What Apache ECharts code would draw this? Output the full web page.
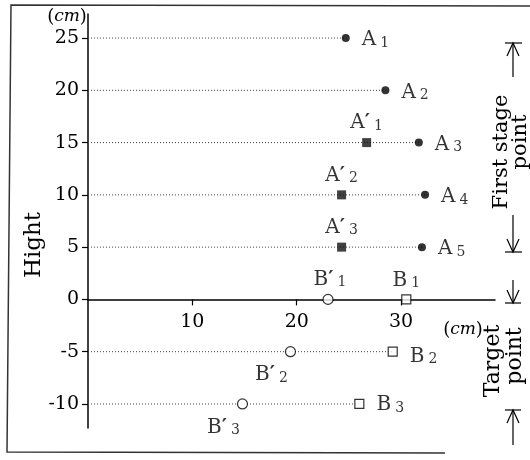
<!DOCTYPE html>
<html>
<head>
<meta charset="utf-8">
<script src="https://cdn.jsdelivr.net/npm/echarts@6/dist/echarts.min.js"></script>
<style>
html,body{margin:0;padding:0;background:#fff;}
#c{width:530px;height:460px;}
</style>
</head>
<body>
<div id="c"></div>
<script>
// ---- data ----
const aX = [24.7, 28.5, 31.7, 32.3, 32.0];      // first stage points A1..A5
const aY = [25, 20, 15, 10, 5];
const aNames = ['1', '2', '3', '4', '5'];
const apX = [26.7, 24.3, 24.3];                 // A'1..A'3
const apY = [15, 10, 5];
const apNames = ['1', '2', '3'];
const bX = [30.5, 29.2, 26.0];                  // target points B1..B3
const bY = [0, -5, -10];
const bNames = ['1', '2', '3'];
const bpX = [23.0, 19.4, 14.8];                 // B'1..B'3
const bpY = [0, -5, -10];
const bpNames = ['1', '2', '3'];
const xTicks = [10, 20, 30];
const yTicks = [-10, -5, 0, 5, 10, 15, 20, 25];

const FONT = 'DejaVu Serif';
const chart = echarts.init(document.getElementById('c'));

const X_MIN = 0, X_MAX = 39, Y_MIN = -12.3, Y_MAX = 27.3;
const GRID_TOP = 14, GRID_BOTTOM = 32, GRID_LEFT = 88, GRID_RIGHT = 35;
const plotH = 460 - GRID_TOP - GRID_BOTTOM;
const zeroFromTop = plotH * (Y_MAX - 0) / (Y_MAX - Y_MIN);

const rich = {
  m: {fontFamily: FONT, fontSize: 20, color: '#000'},
  p: {fontFamily: FONT, fontSize: 20, color: '#000', fontWeight: 'bold'},
  s: {fontFamily: FONT, fontSize: 14, color: '#000', padding: [6, 0, 0, 4]}
};

function pts(xs, ys) { return xs.map((x, i) => [x, ys[i]]); }

const guideRows = aX.map((x, i) => [x, aY[i]]).concat(bX.map((x, i) => [x, bY[i]]).filter(p => p[1] !== 0));
const guideSeries = guideRows.map(p => ({
  type: 'line', data: [[0, p[1]], [p[0], p[1]]], symbol: 'none', silent: true, z: 1,
  lineStyle: {color: '#444', width: 1, type: [1, 2]}
}));

const sAItems = pts(aX, aY).map((v, i) => ({value: v, sub: aNames[i]}));
const sApItems = pts(apX, apY).map((v, i) => ({value: v, sub: apNames[i]}));
const sBItems = pts(bX, bY).map((v, i) => ({
  value: v, sub: bNames[i],
  label: i === 0 ? {position: 'top', distance: 4, offset: [0, 0]} : {position: 'right', distance: 12, offset: [0, i === 1 ? 5 : 1]}
}));
const sBpItems = pts(bpX, bpY).map((v, i) => ({
  value: v, sub: bpNames[i],
  label: i === 0 ? {position: 'top', distance: 4, offset: [2, 0]} : {position: 'bottom', distance: 8, offset: [-19, 0]}
}));

function fmt(letter, prime) {
  return p => '{m|' + letter + '}' + (prime ? '{p|\u2032}' : '') + '{s|' + p.data.sub + '}';
}

const cmText = {text: '{n|(}{i|cm}{n|)}', fill: '#000', fontFamily: FONT, fontSize: 18, align: 'center', verticalAlign: 'middle',
  rich: {
    n: {fontFamily: FONT, fontSize: 18, color: '#000'},
    i: {fontFamily: FONT, fontStyle: 'italic', fontSize: 17, color: '#000'}
  }};

const option = {
  animation: false,
  backgroundColor: '#fff',
  grid: [
    {left: GRID_LEFT, right: GRID_RIGHT, top: GRID_TOP, bottom: GRID_BOTTOM},
    {left: GRID_LEFT, right: GRID_RIGHT, top: GRID_TOP, height: zeroFromTop}
  ],
  xAxis: [
    {type: 'value', gridIndex: 0, min: X_MIN, max: X_MAX, show: false, splitLine: {show: false}},
    {
      type: 'value', gridIndex: 1, min: X_MIN, max: X_MAX, position: 'bottom',
      axisLine: {onZero: false, lineStyle: {color: '#000', width: 1.5}},
      axisTick: {show: true, customValues: xTicks, length: 6, lineStyle: {color: '#000', width: 1.2}},
      axisLabel: {customValues: xTicks, fontFamily: FONT, fontSize: 19, color: '#000', margin: 13},
      splitLine: {show: false}
    }
  ],
  yAxis: [
    {
      type: 'value', gridIndex: 0, min: Y_MIN, max: Y_MAX,
      axisLine: {show: true, onZero: false, lineStyle: {color: '#000', width: 1.5}},
      axisTick: {show: true, customValues: yTicks, length: 6, lineStyle: {color: '#000', width: 1.2}},
      axisLabel: {customValues: yTicks, fontFamily: FONT, fontSize: 19, color: '#000', margin: 9},
      splitLine: {show: false}
    },
    {type: 'value', gridIndex: 1, min: 0, max: Y_MAX, show: false, splitLine: {show: false}}
  ],
  series: guideSeries.concat([
    {
      type: 'scatter', data: sAItems, symbol: 'circle', symbolSize: 8, z: 3,
      itemStyle: {color: '#000'},
      label: {show: true, position: 'right', distance: 12, offset: [0, 2], formatter: fmt('A', false), rich: rich}
    },
    {
      type: 'scatter', data: sApItems, symbol: 'rect', symbolSize: 9, z: 3,
      itemStyle: {color: '#111'},
      label: {show: true, position: 'top', distance: 5, formatter: fmt('A', true), rich: rich}
    },
    {
      type: 'scatter', data: sBItems, symbol: 'rect', symbolSize: 9, z: 3,
      itemStyle: {color: '#fff', borderColor: '#000', borderWidth: 1.2},
      label: {show: true, formatter: fmt('B', false), rich: rich}
    },
    {
      type: 'scatter', data: sBpItems, symbol: 'circle', symbolSize: 10, z: 3,
      itemStyle: {color: '#fff', borderColor: '#000', borderWidth: 1.2},
      label: {show: true, formatter: fmt('B', true), rich: rich}
    }
  ]),
  graphic: [
    {type: 'polyline', shape: {points: [[530, 6], [11, 5], [7, 452], [445, 453]]}, style: {stroke: '#333', lineWidth: 1.5, fill: null}, silent: true},
    {type: 'text', x: 67, y: 17, style: cmText},
    {type: 'text', x: 463, y: 330, style: cmText},
    {type: 'text', x: 34, y: 245, rotation: Math.PI / 2, style: {text: 'Hight', fill: '#000', fontFamily: FONT, fontSize: 23, align: 'center', verticalAlign: 'middle'}},
    {type: 'text', x: 502, y: 152, rotation: Math.PI / 2, style: {text: 'First stage', fill: '#000', fontFamily: FONT, fontSize: 21, align: 'center', verticalAlign: 'middle'}},
    {type: 'text', x: 521, y: 142, rotation: Math.PI / 2, style: {text: 'point', fill: '#000', fontFamily: FONT, fontSize: 21, align: 'center', verticalAlign: 'middle'}},
    {type: 'text', x: 493, y: 361, rotation: Math.PI / 2, style: {text: 'Target', fill: '#000', fontFamily: FONT, fontSize: 22, align: 'center', verticalAlign: 'middle'}},
    {type: 'text', x: 515, y: 356, rotation: Math.PI / 2, style: {text: 'point', fill: '#000', fontFamily: FONT, fontSize: 22, align: 'center', verticalAlign: 'middle'}},
    {type: 'polyline', shape: {points: [[505, 43], [522, 43]]}, style: {stroke: '#000', lineWidth: 1.2}},
    {type: 'polyline', shape: {points: [[513, 43], [513, 77]]}, style: {stroke: '#000', lineWidth: 1.2}},
    {type: 'polyline', shape: {points: [[507, 56], [513, 43], [519, 56]]}, style: {stroke: '#000', lineWidth: 1.2, fill: null}},
    {type: 'polyline', shape: {points: [[505, 252], [522, 252]]}, style: {stroke: '#000', lineWidth: 1.2}},
    {type: 'polyline', shape: {points: [[513, 215], [513, 252]]}, style: {stroke: '#000', lineWidth: 1.2}},
    {type: 'polyline', shape: {points: [[507, 239], [513, 252], [519, 239]]}, style: {stroke: '#000', lineWidth: 1.2, fill: null}},
    {type: 'polyline', shape: {points: [[505, 303], [521, 303]]}, style: {stroke: '#000', lineWidth: 1.2}},
    {type: 'polyline', shape: {points: [[513, 280], [513, 303]]}, style: {stroke: '#000', lineWidth: 1.2}},
    {type: 'polyline', shape: {points: [[507, 290], [513, 303], [519, 290]]}, style: {stroke: '#000', lineWidth: 1.2, fill: null}},
    {type: 'polyline', shape: {points: [[505, 410], [521, 410]]}, style: {stroke: '#000', lineWidth: 1.2}},
    {type: 'polyline', shape: {points: [[513, 410], [513, 445]]}, style: {stroke: '#000', lineWidth: 1.2}},
    {type: 'polyline', shape: {points: [[507, 423], [513, 410], [519, 423]]}, style: {stroke: '#000', lineWidth: 1.2, fill: null}}
  ]
};
chart.setOption(option);
</script>
</body>
</html>
